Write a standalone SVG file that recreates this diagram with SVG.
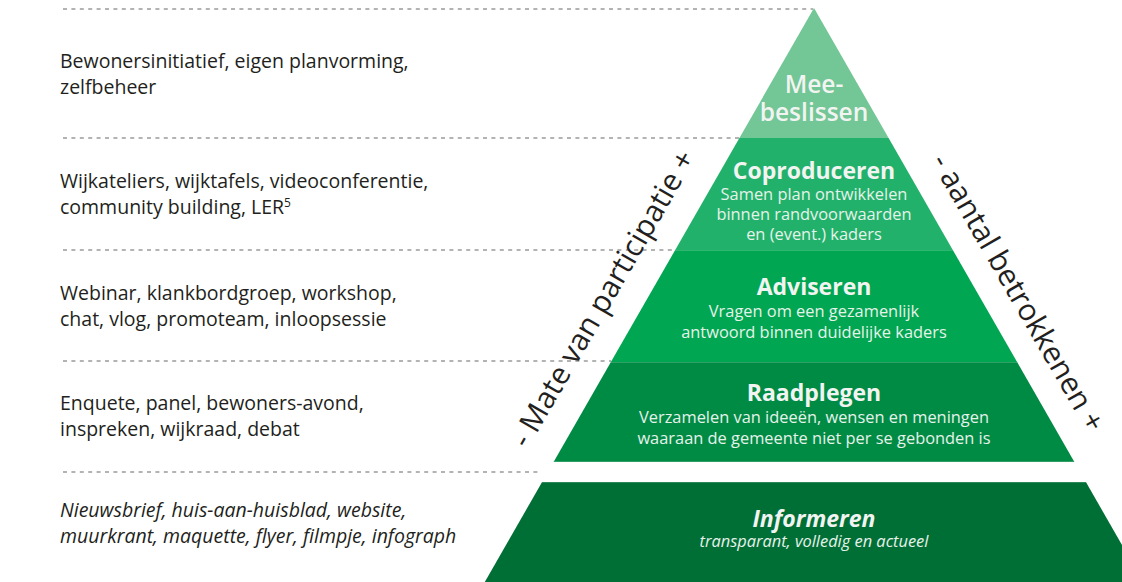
<svg xmlns="http://www.w3.org/2000/svg" width="1122" height="582" viewBox="0 0 1122 582">
  <style>
    .dash { stroke: #b3b3b3; stroke-width: 2; stroke-dasharray: 4 4.4; fill: none; }
    .side { font-family: "Open Sans", "Liberation Sans", sans-serif; font-size: 19.5px; fill: #231f20; }
    .ital { font-style: italic; }
    .title { font-family: "Open Sans", "Liberation Sans", sans-serif; font-size: 23px; font-weight: 700; fill: #f2f4f2; text-anchor: middle; }
    .big { font-size: 24.5px; font-weight: 600; }
    .body { font-family: "Open Sans", "Liberation Sans", sans-serif; font-size: 16.4px; fill: #e6f2ea; text-anchor: middle; }
    .axis { font-family: "Open Sans", "Liberation Sans", sans-serif; font-size: 30px; fill: #231f20; text-anchor: middle; }
    .sep { stroke: #ffffff; stroke-opacity: 0.18; stroke-width: 1; }
  </style>

  <g id="connectors">
    <line class="dash" x1="63" y1="9" x2="813" y2="9"/>
    <line class="dash" x1="63" y1="138" x2="740" y2="138"/>
    <line class="dash" x1="63" y1="250" x2="675" y2="250"/>
    <line class="dash" x1="63" y1="361" x2="611" y2="361"/>
    <line class="dash" x1="63" y1="472" x2="538" y2="472"/>
  </g>

  <g id="layer-meebeslissen">
    <polygon points="814,8 888.6,138 739.4,138" fill="#73c695"/>
    <text class="title big" x="814" y="93">Mee-</text>
    <text class="title big" x="814" y="121">beslissen</text>
  </g>

  <g id="layer-coproduceren">
    <polygon points="739.4,138 888.6,138 952.8,250 675.2,250" fill="#22b16b"/>
    <text class="title" x="814" y="179">Coproduceren</text>
    <text class="body" x="814" y="200">Samen plan ontwikkelen</text>
    <text class="body" x="814" y="220">binnen randvoorwaarden</text>
    <text class="body" x="814" y="240">en (event.) kaders</text>
  </g>

  <g id="layer-adviseren">
    <polygon points="675.2,250 952.8,250 1017.1,362 610.9,362" fill="#00a651"/>
    <line class="sep" x1="675.2" y1="250.5" x2="952.8" y2="250.5"/>
    <text class="title" x="814" y="295">Adviseren</text>
    <text class="body" x="814" y="317">Vragen om een gezamenlijk</text>
    <text class="body" x="814" y="338">antwoord binnen duidelijke kaders</text>
  </g>

  <g id="layer-raadplegen">
    <polygon points="610.9,362 1017.1,362 1074.4,462 553.6,462" fill="#008b45"/>
    <line class="sep" x1="610.9" y1="362.5" x2="1017.1" y2="362.5"/>
    <line class="sep" x1="554" y1="461.5" x2="1074" y2="461.5"/>
    <text class="title" x="814" y="401">Raadplegen</text>
    <text class="body" x="814" y="423">Verzamelen van ideeën, wensen en meningen</text>
    <text class="body" x="814" y="444">waaraan de gemeente niet per se gebonden is</text>
  </g>

  <g id="layer-informeren">
    <polygon points="542.1,482 1085.9,482 1143.2,582 484.8,582" fill="#006f36"/>
    <line class="sep" x1="542" y1="482.5" x2="1086" y2="482.5"/>
    <text class="title" x="814" y="527" font-style="italic">Informeren</text>
    <text class="body" x="814" y="547" font-style="italic">transparant, volledig en actueel</text>
  </g>

  <g id="axis-participatie">
    <text class="axis" transform="translate(611.8,303.7) rotate(-60)">- Mate van participatie +</text>
  </g>
  <g id="axis-betrokkenen">
    <text class="axis" transform="translate(1009.2,297.7) rotate(60)">- aantal betrokkenen +</text>
  </g>

  <g id="examples">
    <text class="side" x="60" y="68">Bewonersinitiatief, eigen planvorming,</text>
    <text class="side" x="60" y="94">zelfbeheer</text>
    <text class="side" x="60" y="188">Wijkateliers, wijktafels, videoconferentie,</text>
    <text class="side" x="60" y="214">community building, LER<tspan font-size="12" dy="-7">5</tspan></text>
    <text class="side" x="60" y="300">Webinar, klankbordgroep, workshop,</text>
    <text class="side" x="60" y="326">chat, vlog, promoteam, inloopsessie</text>
    <text class="side" x="60" y="410">Enquete, panel, bewoners-avond,</text>
    <text class="side" x="60" y="436">inspreken, wijkraad, debat</text>
    <text class="side ital" x="60" y="517">Nieuwsbrief, huis-aan-huisblad, website,</text>
    <text class="side ital" x="60" y="543">muurkrant, maquette, flyer, filmpje, infograph</text>
  </g>
</svg>
